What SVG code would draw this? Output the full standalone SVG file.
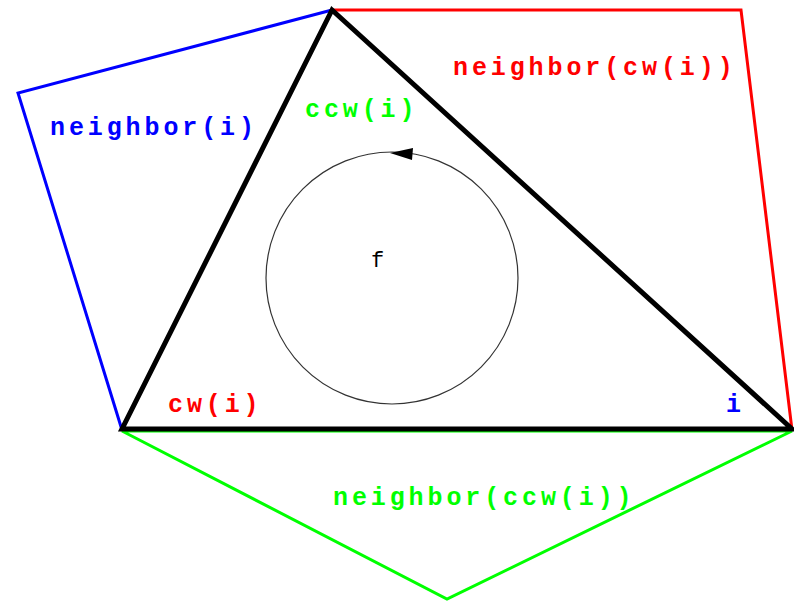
<svg xmlns="http://www.w3.org/2000/svg" width="794" height="603" viewBox="0 0 794 603">
<style>
.lbl{font-family:"Liberation Mono","Courier New",monospace;font-weight:bold;font-size:25px;letter-spacing:3.9px}
.reg{fill:none;stroke-width:3;stroke-linejoin:miter}
</style>
<rect width="794" height="603" fill="#fff"/>
<g id="neighbor-i">
<polyline class="reg" stroke="#0000ff" points="122,430 18,93 332,10"/>
<text class="lbl" fill="#0000ff" x="50" y="135">neighbor(i)</text>
</g>
<g id="neighbor-cw-i">
<polyline class="reg" stroke="#ff0000" points="332,10 741,10 792,430"/>
<text class="lbl" fill="#ff0000" x="453" y="75">neighbor(cw(i))</text>
</g>
<g id="neighbor-ccw-i">
<polygon class="reg" stroke="#00ff00" points="122,431 447,599 792,431"/>
<text class="lbl" fill="#00ff00" x="333" y="505">neighbor(ccw(i))</text>
</g>
<g id="face-f">
<polygon fill="none" stroke="#000" stroke-width="5" stroke-linejoin="miter" points="332,10 122,429 792,429"/>
<circle cx="392" cy="278" r="126" fill="none" stroke="#333" stroke-width="1.2"/>
<polygon fill="#000" points="390,153 413,148 412,160"/>
<text x="371" y="267" font-family="Liberation Mono,'Courier New',monospace" font-size="22" fill="#000">f</text>
<text class="lbl" fill="#00ff00" x="305" y="117">ccw(i)</text>
<text class="lbl" fill="#ff0000" x="168" y="412">cw(i)</text>
<text class="lbl" fill="#0000ff" x="726" y="412">i</text>
</g>
<g id="connectors"/>
</svg>
